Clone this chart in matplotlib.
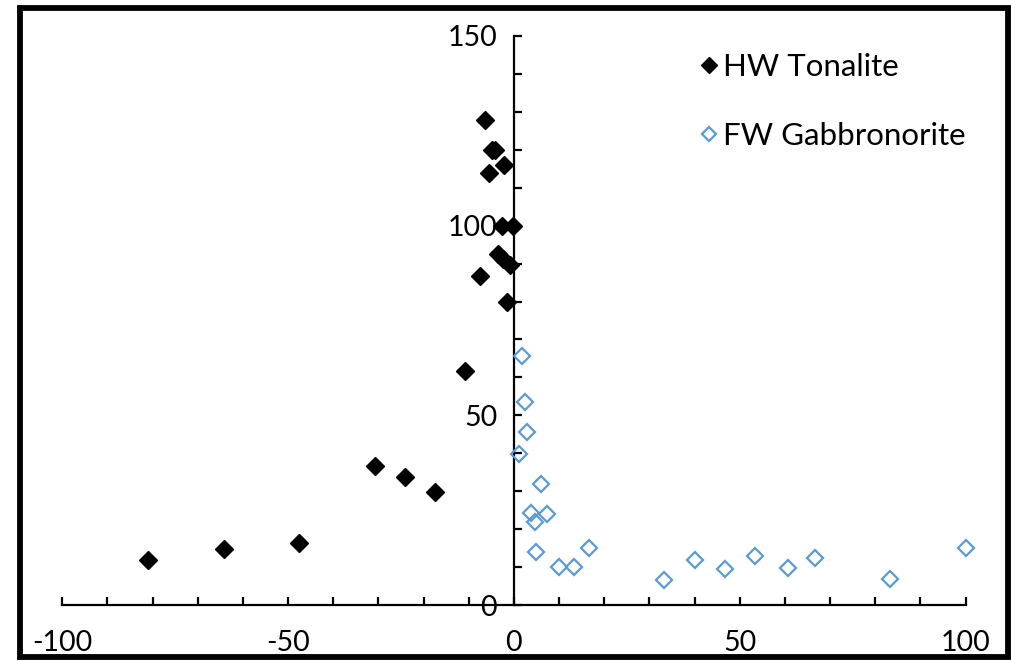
import matplotlib
matplotlib.use("Agg")
import matplotlib.pyplot as plt
from matplotlib.patches import Rectangle

plt.rcParams['font.family'] = ['Lato', 'DejaVu Sans']
plt.rcParams['axes.unicode_minus'] = False

# HW Tonalite (filled black diamonds)
hw_x = [-81.1, -64.3, -47.6, -30.8, -24.2, -17.4, -10.9, -7.4, -6.3, -4.9, -4.1,
        -5.5, -2.2, -2.7, -0.15, -3.5, -2.4, -0.9, -1.6]
hw_y = [11.9, 14.8, 16.3, 36.7, 33.8, 29.9, 61.8, 86.7, 127.9, 120.0, 120.0,
        113.8, 116.0, 99.9, 99.9, 92.5, 91.2, 89.6, 80.0]

# FW Gabbronorite (open blue diamonds)
fw_x = [1.9, 2.4, 3.0, 1.2, 5.9, 3.7, 4.7, 7.3, 5.0, 10.0, 13.3, 16.7,
        33.3, 40.0, 46.7, 53.3, 60.7, 66.7, 83.3, 100.0]
fw_y = [65.6, 53.6, 45.7, 39.8, 31.9, 24.2, 22.0, 24.0, 14.1, 9.9, 9.9, 14.9,
        6.6, 11.9, 9.4, 12.9, 9.7, 12.4, 6.8, 15.0]

x_ticks = [-100, -50, 0, 50, 100]
y_ticks = [0, 50, 100, 150]
labels = ['HW Tonalite', 'FW Gabbronorite']

blue = '#5b9bd5'

fig = plt.figure(figsize=(10.12, 6.61), dpi=100)
ax = fig.add_axes([62.3 / 1012, 1 - 605 / 661, (965.5 - 62.3) / 1012, (605 - 36) / 661])

ax.plot(hw_x, hw_y, linestyle='none', marker='D', markersize=9.2,
        color='black', label=labels[0], clip_on=False, zorder=3)
ax.plot(fw_x, fw_y, linestyle='none', marker='D', markersize=8.0,
        markerfacecolor='none', markeredgecolor=blue, markeredgewidth=1.6,
        label=labels[1], clip_on=False, zorder=3)

ax.set_xlim(-100, 100)
ax.set_ylim(0, 150)
ax.spines['left'].set_position(('data', 0))
ax.spines['bottom'].set_position(('data', 0))
ax.spines['top'].set_visible(False)
ax.spines['right'].set_visible(False)
for s in ('left', 'bottom'):
    ax.spines[s].set_linewidth(1.6)
ax.patch.set_visible(False)

ax.set_xticks(x_ticks)
ax.set_yticks(y_ticks)
ax.set_xticks(range(-100, 101, 10), minor=True)
ax.set_yticks(range(0, 151, 10), minor=True)
ax.tick_params(axis='both', which='both', direction='in', length=6, width=1.6, color='black')
ax.tick_params(axis='x', which='major', labelsize=20.5, pad=18)
ax.tick_params(axis='y', which='major', labelsize=20.5, pad=12)

leg = ax.legend(loc='upper left', bbox_to_anchor=(700 / 1012, 1 - 53 / 661),
                bbox_transform=fig.transFigure, frameon=False, fontsize=22.5,
                markerscale=0.9, handlelength=0.6, handletextpad=0.15,
                labelspacing=1.3, borderpad=0, borderaxespad=0)

border = Rectangle((20 / 1012, 4.5 / 661), (1008 - 20) / 1012, (655 - 6) / 661,
                   transform=fig.transFigure, fill=False, edgecolor='black',
                   linewidth=4.2, zorder=10)
fig.patches.append(border)

fig.savefig('out.png', dpi=100)
